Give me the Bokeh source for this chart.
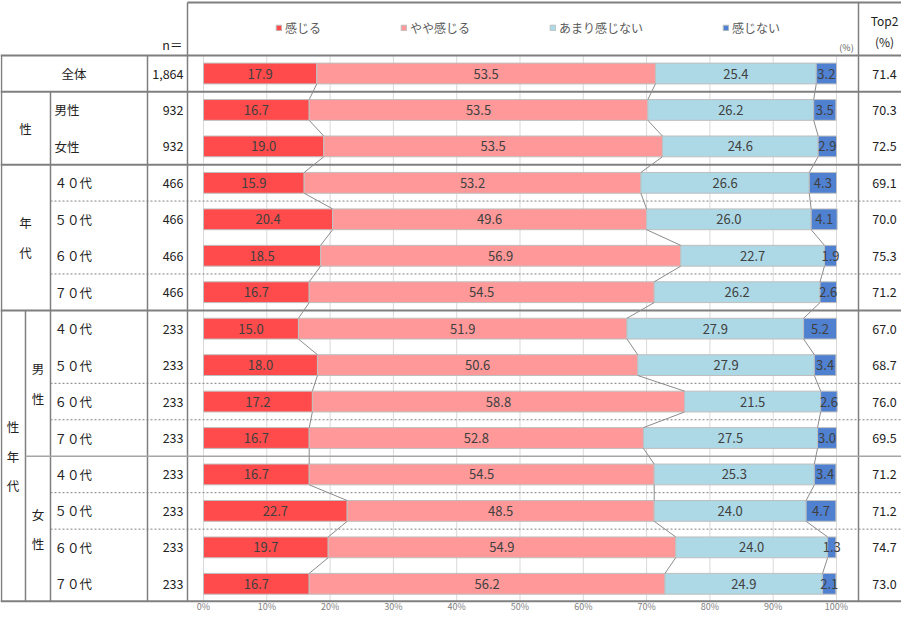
import numpy as np
from bokeh.plotting import figure
from bokeh.models import Range1d, Legend, LegendItem, ColumnDataSource
from bokeh.core.properties import value
from bokeh.embed import file_html
from bokeh.resources import INLINE

# ---------------- data ----------------
categories = ["全体", "男性", "女性",
              "４０代", "５０代", "６０代", "７０代",
              "４０代", "５０代", "６０代", "７０代",
              "４０代", "５０代", "６０代", "７０代"]
n_values = ["1,864", "932", "932", "466", "466", "466", "466",
            "233", "233", "233", "233", "233", "233", "233", "233"]
series_names = ["感じる", "やや感じる", "あまり感じない", "感じない"]
s_kanjiru = [17.9, 16.7, 19.0, 15.9, 20.4, 18.5, 16.7, 15.0, 18.0, 17.2, 16.7, 16.7, 22.7, 19.7, 16.7]
s_yaya = [53.5, 53.5, 53.5, 53.2, 49.6, 56.9, 54.5, 51.9, 50.6, 58.8, 52.8, 54.5, 48.5, 54.9, 56.2]
s_amari = [25.4, 26.2, 24.6, 26.6, 26.0, 22.7, 26.2, 27.9, 27.9, 21.5, 27.5, 25.3, 24.0, 24.0, 24.9]
s_nai = [3.2, 3.5, 2.9, 4.3, 4.1, 1.9, 2.6, 5.2, 3.4, 2.6, 3.0, 3.4, 4.7, 1.3, 2.1]
top2 = [71.4, 70.3, 72.5, 69.1, 70.0, 75.3, 71.2, 67.0, 68.7, 76.0, 69.5, 71.2, 71.2, 74.7, 73.0]
tick_values = [0, 10, 20, 30, 40, 50, 60, 70, 80, 90, 100]
tick_labels = [f"{t}%" for t in tick_values]
# group labels: (label, first row, last row)
group_labels = ["性", "年代", "性年代", "男性", "女性"]
group_spans = [(1, 2), (3, 6), (7, 14), (7, 10), (11, 14)]

# ---------------- layout helpers (screen px -> data) ----------------
FONT = "Noto Sans CJK JP"
PX0, PXW = 211.0, 6.33      # x pixel of 0 %, pixels per %
ROW0, ROWH = 81.0, 36.45    # y pixel of first row centre, row pitch
def fx(px): return (px - PX0) / PXW
def fy(py): return (py - ROW0) / ROWH

W, H = 901, 614
BAR_H = 0.57
colors = ["#FF4B4B", "#FF9999", "#ADD8E6", "#4F81D0"]

p = figure(width=W, height=H, output_backend="svg", toolbar_location=None,
           x_range=Range1d(fx(8), fx(909)),
           y_range=Range1d(fy(8 + H), fy(8)),
           x_axis_type=None, y_axis_type=None, min_border=0,
           outline_line_color=None, background_fill_color="white")

rows = np.arange(len(categories))
nrow = len(categories)

# vertical gridlines in plot area
p.segment(x0=tick_values, y0=[fy(63)] * len(tick_values), x1=tick_values,
          y1=[rows[-1] + 0.5] * len(tick_values), line_color="#d9d9d9", line_width=1)

# percent tick labels under the plot area
p.text(x=tick_values, y=[fy(620.5)] * len(tick_values), text=tick_labels,
       text_align="center", text_baseline="bottom", text_font=value(FONT),
       text_font_size="9px", text_color="#808080")

# ---------------- table lines ----------------
grey = "#7f7f7f"
top_r, bot_r = fy(63), rows[-1] + 0.48
thick = [  # (x0px, y0, x1px, y1)
    (195, fy(10), 909, fy(10)),
    (8, top_r, 909, top_r),
    (8, 0.5, 909, 0.5),
    (8, 2.5, 909, 2.5),
    (8, 6.5, 909, 6.5),
    (8, bot_r, 909, bot_r),
]
p.segment(x0=[fx(a[0]) for a in thick], y0=[a[1] for a in thick],
          x1=[fx(a[2]) for a in thick], y1=[a[3] for a in thick],
          line_color=grey, line_width=2)
verts = [
    (9, top_r, bot_r),
    (58, 0.5, bot_r),
    (155, top_r, bot_r),
    (195, fy(10), bot_r),
    (866, fy(10), bot_r),
]
p.segment(x0=[fx(v[0]) for v in verts], y0=[v[1] for v in verts],
          x1=[fx(v[0]) for v in verts], y1=[v[2] for v in verts],
          line_color=grey, line_width=1.5)
p.segment(x0=[fx(33)], y0=[6.5], x1=[fx(33)], y1=[bot_r], line_color=grey, line_width=1.5)
p.segment(x0=[fx(33)], y0=[10.5], x1=[fx(909)], y1=[10.5], line_color="#a6a6a6", line_width=1.5)
dotted_after = [3, 5, 8, 9, 11, 12]
p.segment(x0=[fx(58)] * len(dotted_after), y0=[r + 0.5 for r in dotted_after],
          x1=[fx(909)] * len(dotted_after), y1=[r + 0.5 for r in dotted_after],
          line_color="#808080", line_width=1, line_dash="2 2")

# ---------------- bars ----------------
src = ColumnDataSource(dict(y=rows, **{series_names[0]: s_kanjiru, series_names[1]: s_yaya,
                                       series_names[2]: s_amari, series_names[3]: s_nai}))
bars = p.hbar_stack(series_names, y="y", height=BAR_H, color=colors,
                    line_color="#bfbfbf", line_width=1, source=src)

vals = np.array([s_kanjiru, s_yaya, s_amari, s_nai]).T
cum = np.cumsum(vals, axis=1)
starts = cum - vals

# series connector lines
cx0, cy0, cx1, cy1 = [], [], [], []
for k in range(3):
    for r in range(nrow - 1):
        cx0.append(cum[r, k]); cy0.append(r + BAR_H / 2)
        cx1.append(cum[r + 1, k]); cy1.append(r + 1 - BAR_H / 2)
p.segment(x0=cx0, y0=cy0, x1=cx1, y1=cy1, line_color="#8c8c8c", line_width=1)

# value labels
lx = (starts + vals / 2).flatten()
ly = np.repeat(rows, 4)
lt = [f"{v:.1f}" for v in vals.flatten()]
p.text(x=lx, y=ly, text=lt, text_align="center", text_baseline="middle",
       text_font=value(FONT), text_font_size="13px", text_color="#404040")

# ---------------- table text ----------------
p.text(x=[fx(81.5)], y=[rows[0]], text=[categories[0]], text_align="center", text_baseline="middle",
       text_font=value(FONT), text_font_size="12.5px", text_color="#222222")
p.text(x=[fx(62)] * (nrow - 1), y=rows[1:], text=categories[1:], text_align="left",
       text_baseline="middle", text_font=value(FONT), text_font_size="12.5px", text_color="#222222")
p.text(x=[fx(191)] * nrow, y=rows, text=n_values, text_align="right", text_baseline="middle",
       text_font=value(FONT), text_font_size="12.5px", text_color="#222222")
p.text(x=[fx(892)] * nrow, y=rows, text=[f"{v:.1f}" for v in top2], text_align="center",
       text_baseline="middle", text_font=value(FONT), text_font_size="12.5px", text_color="#222222")

gx = [33, 33, 20.5, 45.5, 45.5]
gy = [(a + b) / 2 for a, b in group_spans]
p.text(x=[fx(v) for v in gx], y=gy, text=["\n".join(g) for g in group_labels],
       text_align="center", text_baseline="middle", text_line_height=1.55,
       text_font=value(FONT), text_font_size="12.5px", text_color="#222222")

# header texts
p.text(x=[fx(190)], y=[fy(52)], text=["n＝"], text_align="right", text_baseline="middle",
       text_font=value(FONT), text_font_size="12.5px", text_color="#222222")
p.text(x=[fx(892)], y=[fy(38.5)], text=["Top2\n(%)"], text_align="center", text_baseline="middle",
       text_line_height=1.2, text_font=value(FONT), text_font_size="12px", text_color="#222222")
p.text(x=[fx(854)], y=[fy(55)], text=["(%)"], text_align="center", text_baseline="middle",
       text_font=value(FONT), text_font_size="9px", text_color="#595959")

# legend
legend = Legend(items=[LegendItem(label=nm, renderers=[rr]) for nm, rr in zip(series_names, bars)],
                orientation="horizontal", location=(275, H - 27 - 10),
                glyph_width=7, glyph_height=7, label_standoff=3, spacing=79,
                padding=0, margin=0, border_line_color=None, background_fill_alpha=0,
                label_text_font=FONT, label_text_font_size="12px", label_text_color="#595959",
                label_height=20)
p.add_layout(legend)

open("out.html", "w").write(file_html(p, INLINE))
